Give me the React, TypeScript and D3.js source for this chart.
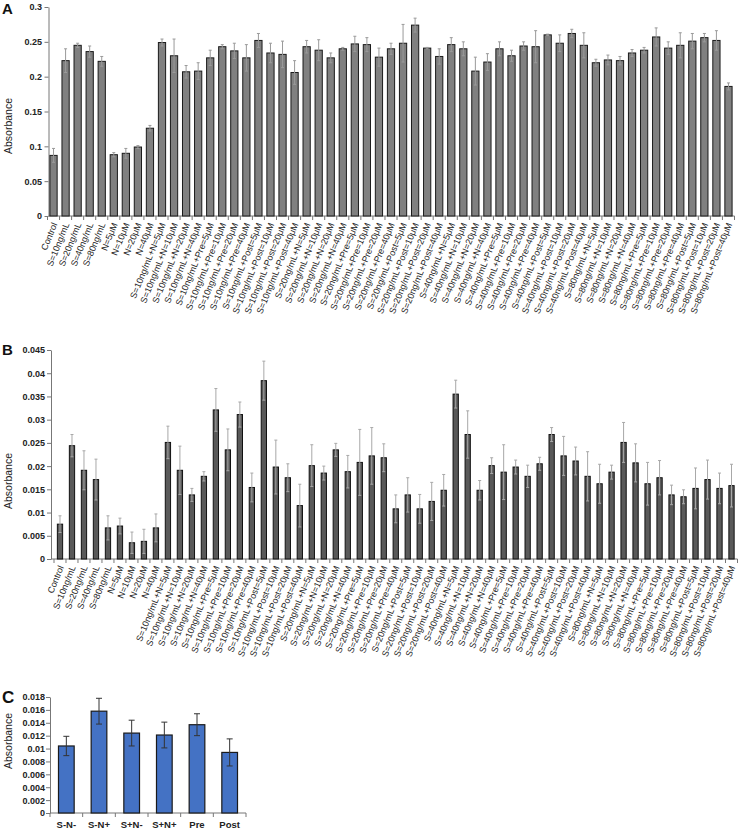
import React, { useEffect, useRef } from "react";
import * as d3 from "d3";

// category labels (same 57 groups in panels A and B)
const singleLabels = ["Control", "S=10ng/mL", "S=20ng/mL", "S=40ng/mL", "S=80ng/mL", "N=5μM", "N=10μM", "N=20μM", "N=40μM"];
const sDoses = ["S=10ng/mL", "S=20ng/mL", "S=40ng/mL", "S=80ng/mL"];
const addOns = ["+N=5μM", "+N=10μM", "+N=20μM", "+N=40μM", "+Pre=5μM", "+Pre=10μM", "+Pre=20μM", "+Pre=40μM", "+Post=5μM", "+Post=10μM", "+Post=20μM", "+Post=40μM"];
const categories = [...singleLabels, ...sDoses.flatMap((s) => addOns.map((a) => s + a))];

const valuesA = [
  0.087, 0.223, 0.245, 0.236, 0.222, 0.088, 0.09, 0.099, 0.126,
  0.249, 0.23, 0.207, 0.208, 0.227, 0.243, 0.237, 0.227, 0.252, 0.234, 0.232, 0.206,
  0.243, 0.238, 0.227, 0.24, 0.247, 0.246, 0.228, 0.24, 0.248, 0.274, 0.241, 0.229,
  0.246, 0.24, 0.208, 0.221, 0.24, 0.23, 0.244, 0.243, 0.26, 0.248, 0.262, 0.245,
  0.22, 0.224, 0.223, 0.234, 0.238, 0.257, 0.241, 0.245, 0.251, 0.256, 0.252, 0.186,
];
const errorsA = [
  0.01, 0.017, 0.003, 0.008, 0.007, 0.003, 0.007, 0.002, 0.004,
  0.005, 0.024, 0.009, 0.012, 0.011, 0.003, 0.011, 0.019, 0.01, 0.014, 0.019, 0.017,
  0.009, 0.015, 0.007, 0.002, 0.011, 0.01, 0.013, 0.008, 0.027, 0.01, 0.001, 0.011,
  0.01, 0.01, 0.02, 0.012, 0.01, 0.008, 0.006, 0.023, 0.001, 0.012, 0.006, 0.018,
  0.005, 0.007, 0.006, 0.005, 0.004, 0.013, 0.009, 0.018, 0.011, 0.006, 0.014, 0.005,
];

const valuesB = [
  0.0075, 0.0244, 0.0191, 0.0171, 0.0067, 0.0071, 0.0035, 0.0038, 0.0067,
  0.0251, 0.0191, 0.0138, 0.0178, 0.0321, 0.0235, 0.0311, 0.0154, 0.0384, 0.0198, 0.0175, 0.0115,
  0.0201, 0.0185, 0.0235, 0.0188, 0.0208, 0.0222, 0.0218, 0.0108, 0.0138, 0.0108, 0.0124, 0.0148,
  0.0355, 0.0268, 0.0148, 0.0201, 0.0187, 0.0198, 0.0178, 0.0205, 0.0268, 0.0222, 0.0211, 0.0178,
  0.0162, 0.0187, 0.0251, 0.0207, 0.0162, 0.0175, 0.0138, 0.0134, 0.0152, 0.0171, 0.0152, 0.0158,
];
const errorsB = [
  0.0018, 0.0024, 0.0042, 0.0044, 0.0026, 0.0017, 0.0023, 0.0026, 0.003,
  0.0035, 0.0052, 0.0014, 0.001, 0.0046, 0.0045, 0.0027, 0.0031, 0.0042, 0.0058, 0.003, 0.0046,
  0.0045, 0.0015, 0.0014, 0.0035, 0.0071, 0.0061, 0.003, 0.003, 0.0037, 0.0031, 0.0041, 0.0034,
  0.003, 0.0051, 0.0021, 0.0017, 0.0059, 0.0015, 0.0024, 0.0014, 0.0015, 0.0042, 0.003, 0.0053,
  0.0042, 0.0015, 0.0043, 0.0041, 0.0046, 0.0037, 0.0021, 0.0015, 0.0044, 0.0042, 0.0033, 0.0046,
];

const groupsC = ["S-N-", "S-N+", "S+N-", "S+N+", "Pre", "Post"];
const valuesC = [0.0104, 0.0158, 0.0124, 0.0121, 0.0137, 0.0094];
const errorsC = [0.0015, 0.002, 0.002, 0.002, 0.0017, 0.0021];

const ticksA = [0, 0.05, 0.1, 0.15, 0.2, 0.25, 0.3];
const ticksB = [0, 0.005, 0.01, 0.015, 0.02, 0.025, 0.03, 0.035, 0.04, 0.045];
const ticksC = [0, 0.002, 0.004, 0.006, 0.008, 0.01, 0.012, 0.014, 0.016, 0.018];

const FONT = "'Liberation Sans', Arial, sans-serif";
const fmt = (d) => String(+d.toFixed(4));

function drawPanel(svg, p) {
  const g = svg.append("g");
  const y = d3.scaleLinear().domain([0, p.ticks[p.ticks.length - 1]]).range(p.yRange);
  const x = d3
    .scaleBand()
    .domain(p.cats)
    .range(p.xRange)
    .paddingInner(p.pad)
    .paddingOuter(p.pad / 2);
  const y0 = y(0);

  // y axis
  const yAxis = g
    .append("g")
    .attr("transform", `translate(${p.axisX},0)`)
    .call(d3.axisLeft(y).tickValues(p.ticks).tickSize(4).tickSizeOuter(0).tickPadding(p.tickPad).tickFormat(fmt));
  yAxis.select(".domain").attr("stroke", "#777");
  yAxis.selectAll(".tick line").attr("stroke", "#777");
  yAxis
    .selectAll(".tick text")
    .attr("font-family", FONT)
    .attr("font-size", 9)
    .attr("font-weight", "bold")
    .attr("fill", "#222");

  // x axis line + ticks between categories
  g.append("line")
    .attr("x1", p.axisX)
    .attr("x2", p.xRange[1])
    .attr("y1", y0)
    .attr("y2", y0)
    .attr("stroke", "#777");
  g.selectAll("line.xt")
    .data(d3.range(p.cats.length + 1))
    .join("line")
    .attr("class", "xt")
    .attr("x1", (i) => p.xRange[0] + i * x.step())
    .attr("x2", (i) => p.xRange[0] + i * x.step())
    .attr("y1", y0)
    .attr("y2", y0 + 4)
    .attr("stroke", "#777");

  // bars
  g.selectAll("rect.bar")
    .data(p.values)
    .join("rect")
    .attr("class", "bar")
    .attr("x", (d, i) => x(p.cats[i]))
    .attr("width", x.bandwidth())
    .attr("y", (d) => y(d))
    .attr("height", (d) => y0 - y(d))
    .attr("fill", p.fill)
    .attr("stroke", p.stroke)
    .attr("stroke-width", p.strokeWidth);

  // error bars
  const cx = (i) => x(p.cats[i]) + x.bandwidth() / 2;
  const eb = g.selectAll("g.err").data(p.values).join("g").attr("class", "err").attr("stroke", p.errColor).attr("stroke-width", 1);
  eb.append("line")
    .attr("x1", (d, i) => cx(i))
    .attr("x2", (d, i) => cx(i))
    .attr("y1", (d, i) => y(d + p.errors[i]))
    .attr("y2", (d, i) => y(d - p.errors[i]));
  eb.append("line")
    .attr("x1", (d, i) => cx(i) - p.cap)
    .attr("x2", (d, i) => cx(i) + p.cap)
    .attr("y1", (d, i) => y(d + p.errors[i]))
    .attr("y2", (d, i) => y(d + p.errors[i]));
  eb.append("line")
    .attr("x1", (d, i) => cx(i) - p.cap)
    .attr("x2", (d, i) => cx(i) + p.cap)
    .attr("y1", (d, i) => y(d - p.errors[i]))
    .attr("y2", (d, i) => y(d - p.errors[i]));

  // category labels
  if (p.rotated) {
    g.selectAll("text.cat")
      .data(p.cats)
      .join("text")
      .attr("class", "cat")
      .attr("transform", (d, i) => `translate(${cx(i) + 1},${y0 + 7}) rotate(-68)`)
      .attr("text-anchor", "end")
      .attr("dy", "0.35em")
      .attr("font-family", FONT)
      .attr("font-size", 9)
      .attr("fill", "#1a1a1a")
      .text((d) => d);
  } else {
    g.selectAll("text.cat")
      .data(p.cats)
      .join("text")
      .attr("class", "cat")
      .attr("x", (d, i) => cx(i))
      .attr("y", y0 + 15)
      .attr("text-anchor", "middle")
      .attr("font-family", FONT)
      .attr("font-size", 9.5)
      .attr("font-weight", "bold")
      .attr("fill", "#222")
      .text((d) => d);
  }

  // y title
  g.append("text")
    .attr("transform", `translate(12,${p.titleY}) rotate(-90)`)
    .attr("text-anchor", "middle")
    .attr("font-family", FONT)
    .attr("font-size", 10.5)
    .attr("fill", "#222")
    .text("Absorbance");

  // panel letter
  g.append("text")
    .attr("x", 2)
    .attr("y", p.letterY)
    .attr("font-family", FONT)
    .attr("font-size", p.letterSize)
    .attr("font-weight", "bold")
    .attr("fill", "#111")
    .text(p.letter);
}

const App = () => {
  const ref = useRef(null);

  useEffect(() => {
    if (!ref.current) return;
    const svg = d3.select(ref.current);
    svg.selectAll("*").remove();

    drawPanel(svg, {
      letter: "A", letterY: 14, letterSize: 15,
      cats: categories, values: valuesA, errors: errorsA, ticks: ticksA,
      yRange: [216, 7], xRange: [47.5, 734.5], axisX: 48.5, pad: 0.4,
      fill: "#808080", stroke: "#1a1a1a", strokeWidth: 1, errColor: "#9a9a9a", cap: 1.5,
      tickPad: 2.5, titleY: 126, rotated: true,
    });
    drawPanel(svg, {
      letter: "B", letterY: 355, letterSize: 15,
      cats: categories, values: valuesB, errors: errorsB, ticks: ticksB,
      yRange: [559, 350], xRange: [54, 737.5], axisX: 51, pad: 0.56,
      fill: "#595959", stroke: "#111", strokeWidth: 1, errColor: "#a8a8a8", cap: 1.5,
      tickPad: 2, titleY: 481, rotated: true,
    });
    drawPanel(svg, {
      letter: "C", letterY: 703, letterSize: 17,
      cats: groupsC, values: valuesC, errors: errorsC, ticks: ticksC,
      yRange: [813, 697], xRange: [50, 246], axisX: 50, pad: 0.52,
      fill: "#4472c4", stroke: "#1a1a1a", strokeWidth: 1.2, errColor: "#333", cap: 3,
      tickPad: 1, titleY: 741, rotated: false,
    });
  }, []);

  return (
    <svg
      ref={ref}
      width={740}
      height={830}
      style={{ position: "absolute", left: 0, top: 0, background: "#fff" }}
    />
  );
};

export default App;
